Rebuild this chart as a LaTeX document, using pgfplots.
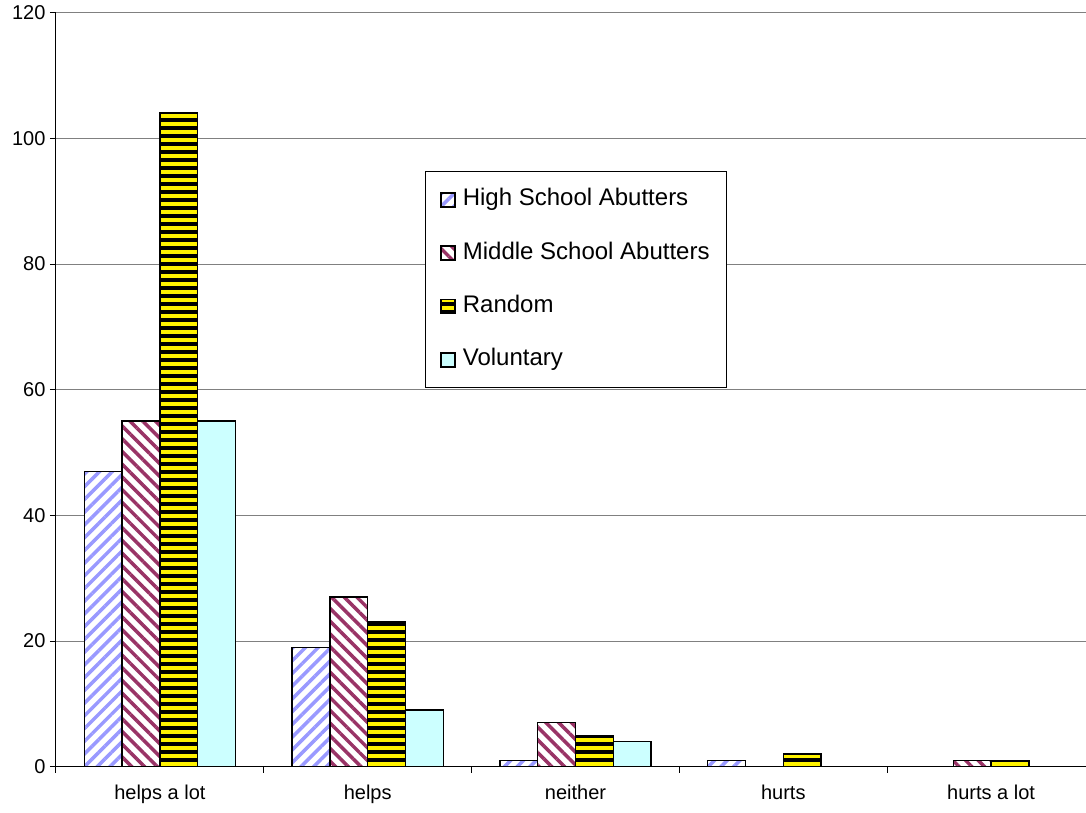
\documentclass[border=0pt]{standalone}
\usepackage{fontspec}
\setmainfont{Liberation Sans}
\usepackage{pgfplots}
\pgfplotsset{compat=1.18}
\usetikzlibrary{patterns.meta}
\definecolor{hsblue}{HTML}{9999FF}
\definecolor{msred}{HTML}{993366}
\definecolor{volcyan}{HTML}{CCFFFF}
\definecolor{gridgray}{HTML}{808080}
\begin{document}
\begin{tikzpicture}
\path[use as bounding box] (-56pt,-46.3pt) rectangle (1030pt,766.7pt);
\begin{axis}[
  at={(0pt,0pt)}, anchor=south west,
  scale only axis, width=1039pt, height=754pt,
  ybar=0pt, bar width=0.182,
  xmin=-0.5, xmax=4.5, ymin=0, ymax=120,
  ytick={0,20,...,120},
  xtick={-0.5,0.5,...,4.5}, xticklabels={},
  extra x ticks={0,1,2,3,4},
  extra x tick labels={helps a lot,helps,neither,hurts,hurts a lot},
  extra x tick style={major tick length=0pt, grid=none},
  axis x line=bottom, axis y line=left,
  axis line style={-, black, line width=1pt},
  tick align=outside, major tick length=6pt,
  tick style={black, line width=1pt},
  ymajorgrids, grid style={gridgray, line width=1pt},
  /pgf/number format/assume math mode=true,
  ticklabel style={font=\fontsize{20}{24}\selectfont},
  yticklabel style={xshift=-1pt},
  xticklabel style={yshift=-15pt},
  legend style={at={(0.355,0.7895)}, anchor=north west,
    draw=black, line width=1pt, font=\fontsize{24}{28}\selectfont,
    inner xsep=15pt, inner ysep=15pt, row sep=27.3pt, column sep=5pt,
    nodes={text height=17pt, text depth=5pt, inner sep=2pt}},
  legend cell align=left,
  legend image code/.code={\draw[#1, line width=1.5pt] (0pt,-7pt) rectangle (14pt,7pt);},
]
\addplot[draw=black, line width=1.5pt, preaction={fill=white},
  preaction={pattern={Lines[angle=45,distance=9pt,line width=3.5pt]}, pattern color=hsblue}]
  coordinates {(0,47) (1,19) (2,1) (3,1)};
\addlegendentry{High School Abutters}
\addplot[draw=black, line width=1.5pt, preaction={fill=white},
  preaction={pattern={Lines[angle=-45,distance=9pt,line width=3.5pt]}, pattern color=msred}]
  coordinates {(0,55) (1,27) (2,7) (4,1)};
\addlegendentry{Middle School Abutters}
\addplot[draw=black, line width=1.5pt, preaction={fill=yellow},
  preaction={pattern={Lines[angle=0,distance=8pt,line width=4pt,yshift=4.8pt]}, pattern color=black}]
  coordinates {(0,104) (1,23) (2,5) (3,2) (4,1)};
\addlegendentry{Random}
\addplot[draw=black, line width=1.5pt, fill=volcyan]
  coordinates {(0,55) (1,9) (2,4)};
\addlegendentry{Voluntary}
\end{axis}
\end{tikzpicture}
\end{document}
